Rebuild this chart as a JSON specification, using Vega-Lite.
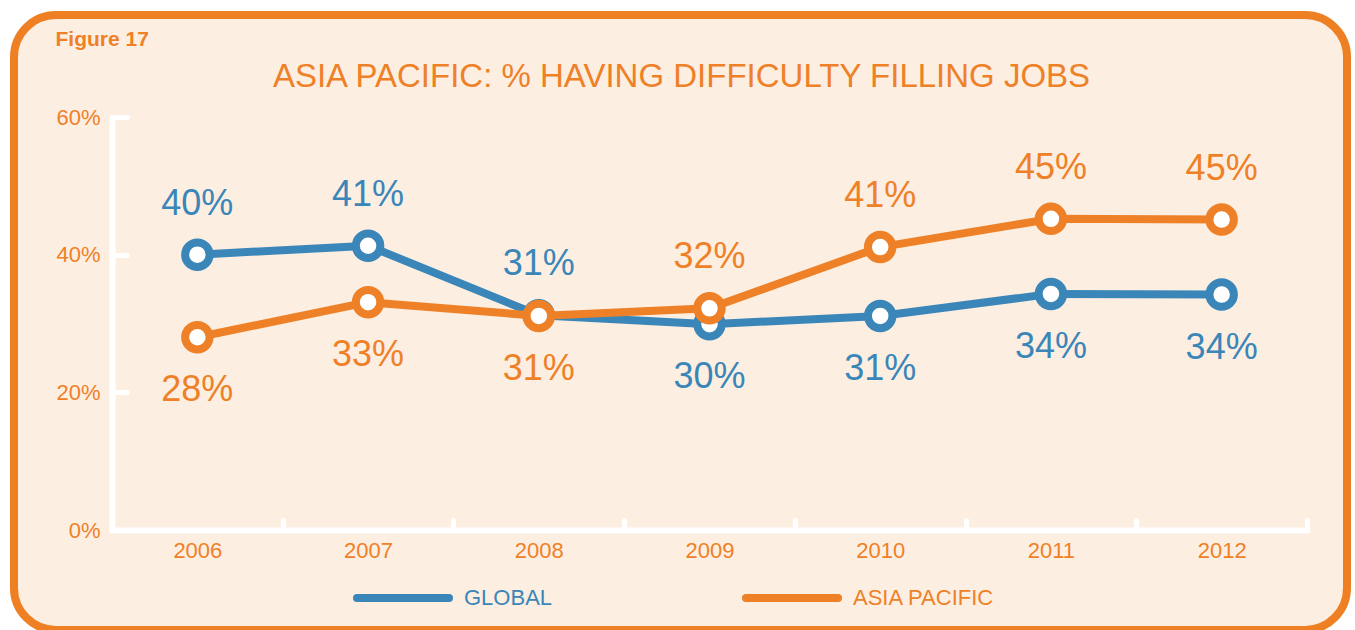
{
  "$schema": "https://vega.github.io/schema/vega-lite/v6.json",
  "width": 1333,
  "height": 615,
  "autosize": {"type": "none"},
  "padding": {"left": 14, "top": 15, "right": 8, "bottom": 0},
  "background": "#ffffff",
  "config": {
    "view": {"fill": "#fdeee2", "stroke": "#ee7f22", "strokeWidth": 8, "cornerRadius": 42},
    "font": "Liberation Sans"
  },
  "title": {
    "text": "ASIA PACIFIC: % HAVING DIFFICULTY FILLING JOBS",
    "frame": "group",
    "anchor": "middle",
    "baseline": "alphabetic",
    "offset": 0,
    "dy": 105,
    "dx": 1,
    "font": "Liberation Sans",
    "fontSize": 33,
    "fontWeight": "normal",
    "color": "#ee8127"
  },
  "data": {
    "values": [
      {"year": "2006", "series": "GLOBAL", "v": 0.400},
      {"year": "2007", "series": "GLOBAL", "v": 0.413},
      {"year": "2008", "series": "GLOBAL", "v": 0.312},
      {"year": "2009", "series": "GLOBAL", "v": 0.299},
      {"year": "2010", "series": "GLOBAL", "v": 0.311},
      {"year": "2011", "series": "GLOBAL", "v": 0.343},
      {"year": "2012", "series": "GLOBAL", "v": 0.342},
      {"year": "2006", "series": "ASIA PACIFIC", "v": 0.280},
      {"year": "2007", "series": "ASIA PACIFIC", "v": 0.331},
      {"year": "2008", "series": "ASIA PACIFIC", "v": 0.311},
      {"year": "2009", "series": "ASIA PACIFIC", "v": 0.322},
      {"year": "2010", "series": "ASIA PACIFIC", "v": 0.411},
      {"year": "2011", "series": "ASIA PACIFIC", "v": 0.452},
      {"year": "2012", "series": "ASIA PACIFIC", "v": 0.451}
    ]
  },
  "transform": [
    {"joinaggregate": [{"op": "max", "field": "v", "as": "maxv"}], "groupby": ["year"]}
  ],
  "encoding": {
    "x": {
      "field": "year",
      "type": "ordinal",
      "scale": {"type": "band", "range": [98, 1293], "paddingInner": 0, "paddingOuter": 0},
      "axis": {
        "orient": "bottom",
        "offset": -100,
        "title": null,
        "grid": false,
        "labelAngle": 0,
        "domainColor": "#ffffff",
        "domainWidth": 6,
        "domainCap": "round",
        "ticks": true,
        "tickBand": "extent",
        "tickColor": "#ffffff",
        "tickWidth": 5,
        "tickSize": -10,
        "tickCap": "round",
        "labelColor": "#ee8127",
        "labelFont": "Liberation Sans",
        "labelFontSize": 22,
        "labelPadding": 20
      }
    },
    "y": {
      "field": "v",
      "type": "quantitative",
      "scale": {"domain": [0, 0.6], "range": [515, 102], "nice": false, "zero": true},
      "axis": {
        "orient": "left",
        "offset": -98,
        "values": [0, 0.2, 0.4, 0.6],
        "format": ".0%",
        "grid": false,
        "domainColor": "#ffffff",
        "domainWidth": 6,
        "domainCap": "round",
        "tickColor": "#ffffff",
        "tickWidth": 5,
        "tickSize": -15,
        "tickCap": "round",
        "labelColor": "#ee8127",
        "labelFont": "Liberation Sans",
        "labelFontSize": 22,
        "labelPadding": 27,
        "title": "Figure 17",
        "titleAngle": 0,
        "titleX": -57,
        "titleY": 30,
        "titleAlign": "left",
        "titleBaseline": "alphabetic",
        "titleFont": "Liberation Sans",
        "titleFontSize": 21,
        "titleFontWeight": "bold",
        "titleColor": "#ee8127"
      }
    }
  },
  "layer": [
    {
      "transform": [{"filter": "datum.series === 'GLOBAL'"}],
      "mark": {"type": "line", "strokeWidth": 8, "strokeJoin": "round"},
      "encoding": {
        "stroke": {
          "field": "series",
          "type": "nominal",
          "scale": {"domain": ["GLOBAL", "ASIA PACIFIC"], "range": ["#3a86b8", "#ee8127"]},
          "legend": {
            "orient": "none",
            "legendX": 339,
            "legendY": 533,
            "direction": "horizontal",
            "title": null,
            "symbolType": "stroke",
            "symbolSize": 8464,
            "symbolStrokeWidth": 8,
            "labelFont": "Liberation Sans",
            "labelFontSize": 22,
            "labelOffset": 11,
            "columnPadding": 177,
            "padding": 0,
            "encode": {
              "labels": {"update": {"fill": {"signal": "datum.value === 'GLOBAL' ? '#3a86b8' : '#ee8127'"}}},
              "symbols": {"update": {"strokeCap": {"value": "round"}}}
            }
          }
        }
      }
    },
    {
      "transform": [{"filter": "datum.series === 'GLOBAL'"}],
      "mark": {"type": "point", "shape": "circle", "size": 600, "strokeWidth": 8, "fill": "#ffffff", "opacity": 1},
      "encoding": {
        "stroke": {"field": "series", "type": "nominal"}
      }
    },
    {
      "transform": [{"filter": "datum.series === 'ASIA PACIFIC'"}],
      "mark": {"type": "line", "strokeWidth": 8, "strokeJoin": "round"},
      "encoding": {
        "stroke": {"field": "series", "type": "nominal"}
      }
    },
    {
      "transform": [{"filter": "datum.series === 'ASIA PACIFIC'"}],
      "mark": {"type": "point", "shape": "circle", "size": 600, "strokeWidth": 8, "fill": "#ffffff", "opacity": 1},
      "encoding": {
        "stroke": {"field": "series", "type": "nominal"}
      }
    },
    {
      "transform": [{"filter": "datum.v >= datum.maxv"}],
      "mark": {"type": "text", "font": "Liberation Sans", "fontSize": 36, "baseline": "middle", "align": "center", "dy": -51},
      "encoding": {
        "text": {"field": "v", "type": "quantitative", "format": ".0%"},
        "color": {
          "field": "series",
          "type": "nominal",
          "scale": {"domain": ["GLOBAL", "ASIA PACIFIC"], "range": ["#3a86b8", "#ee8127"]},
          "legend": null
        }
      }
    },
    {
      "transform": [{"filter": "datum.v < datum.maxv"}],
      "mark": {"type": "text", "font": "Liberation Sans", "fontSize": 36, "baseline": "middle", "align": "center", "dy": 53},
      "encoding": {
        "text": {"field": "v", "type": "quantitative", "format": ".0%"},
        "color": {"field": "series", "type": "nominal", "legend": null}
      }
    }
  ]
}
